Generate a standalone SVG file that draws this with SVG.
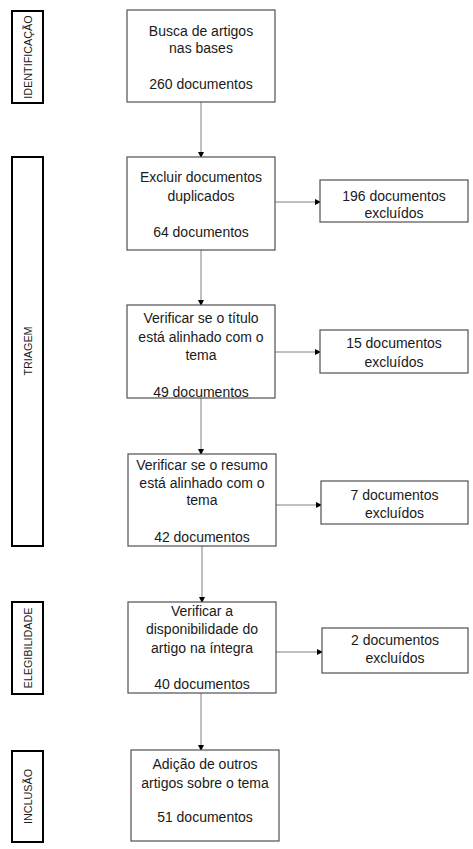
<svg xmlns="http://www.w3.org/2000/svg" width="473" height="849" viewBox="0 0 473 849">
<style>
  .box { fill: #ffffff; stroke: #505050; stroke-width: 1.2; }
  .lbl { fill: #ffffff; stroke: #000000; stroke-width: 2; }
  .t { font-family: "Liberation Sans", Arial, sans-serif; font-size: 14px; fill: #1a1a1a; text-anchor: middle; }
  .v { font-family: "Liberation Sans", Arial, sans-serif; font-size: 10.8px; fill: #1a1a1a; text-anchor: middle; }
  .c { stroke: #808080; stroke-width: 1; fill: none; marker-end: url(#arr); }
</style>
<defs>
  <marker id="arr" markerWidth="6" markerHeight="6" refX="5" refY="3" orient="auto" markerUnits="userSpaceOnUse">
    <path d="M0,0 L6,3 L0,6 Z" fill="#000000"/>
  </marker>
</defs>
<rect width="473" height="849" fill="#ffffff"/>

<g id="phase-identificacao">
  <rect class="lbl" x="12" y="11" width="31" height="92"/>
  <text class="v" transform="translate(31.5,57) rotate(-90)">IDENTIFICAÇÃO</text>
</g>
<g id="phase-triagem">
  <rect class="lbl" x="12" y="157" width="31" height="389"/>
  <text class="v" transform="translate(31.5,351) rotate(-90)">TRIAGEM</text>
</g>
<g id="phase-elegibilidade">
  <rect class="lbl" x="12" y="602" width="31" height="92"/>
  <text class="v" transform="translate(31.5,648) rotate(-90)">ELEGIBILIDADE</text>
</g>
<g id="phase-inclusao">
  <rect class="lbl" x="12" y="751" width="31" height="91"/>
  <text class="v" transform="translate(31.5,796.5) rotate(-90)">INCLUSÃO</text>
</g>

<g id="connectors">
  <line class="c" x1="201" y1="102" x2="201" y2="157"/>
  <line class="c" x1="201" y1="250" x2="201" y2="305"/>
  <line class="c" x1="201" y1="398" x2="201" y2="454"/>
  <line class="c" x1="202" y1="546" x2="202" y2="602"/>
  <line class="c" x1="201" y1="693" x2="201" y2="750"/>
  <line class="c" x1="275" y1="202" x2="320" y2="202"/>
  <line class="c" x1="275" y1="352" x2="320" y2="352"/>
  <line class="c" x1="276" y1="505" x2="321" y2="505"/>
  <line class="c" x1="276" y1="652" x2="322" y2="652"/>
</g>

<g id="n1">
  <rect class="box" x="127" y="10" width="148" height="92"/>
  <text class="t" x="201" y="36">Busca de artigos</text>
  <text class="t" x="201" y="53">nas bases</text>
  <text class="t" x="201" y="89">260 documentos</text>
</g>
<g id="n2">
  <rect class="box" x="127" y="157" width="148" height="93"/>
  <text class="t" x="201" y="182">Excluir documentos</text>
  <text class="t" x="201" y="201">duplicados</text>
  <text class="t" x="201" y="237">64 documentos</text>
</g>
<g id="x1">
  <rect class="box" x="320" y="180" width="148" height="42"/>
  <text class="t" x="394" y="201">196 documentos</text>
  <text class="t" x="394" y="218">excluídos</text>
</g>
<g id="n3">
  <rect class="box" x="127" y="305" width="148" height="93"/>
  <text class="t" x="201" y="323">Verificar se o título</text>
  <text class="t" x="201" y="342">está alinhado com o</text>
  <text class="t" x="201" y="360">tema</text>
  <text class="t" x="201" y="397">49 documentos</text>
</g>
<g id="x2">
  <rect class="box" x="320" y="330" width="148" height="43"/>
  <text class="t" x="394" y="348">15 documentos</text>
  <text class="t" x="394" y="367">excluídos</text>
</g>
<g id="n4">
  <rect class="box" x="128" y="454" width="148" height="92"/>
  <text class="t" x="202" y="470">Verificar se o resumo</text>
  <text class="t" x="202" y="488">está alinhado com o</text>
  <text class="t" x="202" y="505">tema</text>
  <text class="t" x="202" y="542">42 documentos</text>
</g>
<g id="x3">
  <rect class="box" x="321" y="481" width="147" height="43"/>
  <text class="t" x="394.5" y="500">7 documentos</text>
  <text class="t" x="394.5" y="518">excluídos</text>
</g>
<g id="n5">
  <rect class="box" x="128" y="602" width="148" height="91"/>
  <text class="t" x="202" y="616">Verificar a</text>
  <text class="t" x="202" y="634">disponibilidade do</text>
  <text class="t" x="202" y="653">artigo na íntegra</text>
  <text class="t" x="202" y="689">40 documentos</text>
</g>
<g id="x4">
  <rect class="box" x="322" y="628" width="146" height="45"/>
  <text class="t" x="395" y="645">2 documentos</text>
  <text class="t" x="395" y="663">excluídos</text>
</g>
<g id="n6">
  <rect class="box" x="131" y="750" width="148" height="91"/>
  <text class="t" x="205" y="769">Adição de outros</text>
  <text class="t" x="205" y="788">artigos sobre o tema</text>
  <text class="t" x="205" y="822">51 documentos</text>
</g>
</svg>
